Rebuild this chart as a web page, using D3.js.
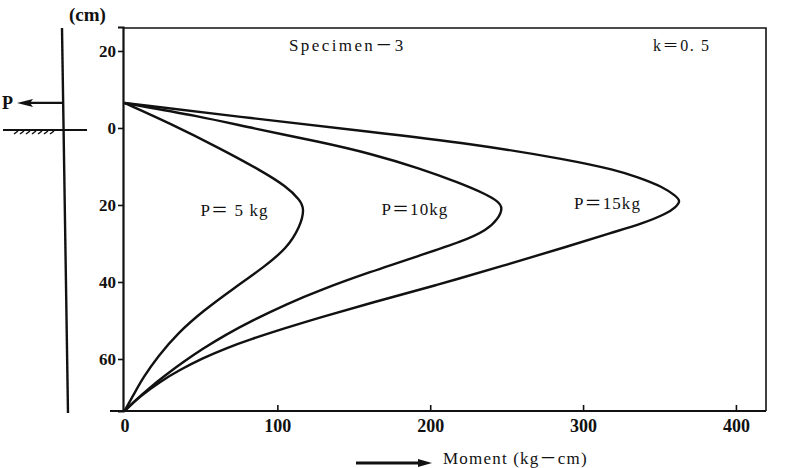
<!DOCTYPE html>
<html>
<head>
<meta charset="utf-8">
<script src="https://cdn.jsdelivr.net/npm/d3@7/dist/d3.min.js"></script>
<style>
  html, body { margin: 0; padding: 0; background: #fff; }
  svg { display: block; }
  text { font-family: "Liberation Serif", "Noto Sans CJK JP", serif; fill: #111; }
</style>
</head>
<body>
<svg id="chart" width="786" height="468"></svg>
<script>
// ---- data (moment kg-cm, depth cm; negative depth = above ground) ----
const momentTicks = [0, 100, 200, 300, 400];
const depthTicks = [-20, 0, 20, 40, 60];
const depthTickLabels = ["20", "0", "20", "40", "60"];
const seriesNames = ["P＝ 5 kg", "P＝10kg", "P＝15kg"];
const curveP5 = [
  [0, -6.5], [29.8, -1.2], [62.5, 5.3], [88.6, 10.9], [106.1, 15.2], [114.8, 18.7], [117.8, 21.0],
  [114.8, 25.7], [106.3, 31.2], [91.3, 36.1], [71.6, 41.6], [51.4, 47.5], [35.0, 53.2],
  [21.9, 59.3], [12.0, 64.9], [5.8, 69.4], [0, 73.5]
];
const curveP10 = [
  [0, -6.5], [49.4, -3.0], [84.1, 0.1], [127.9, 3.6], [160.6, 6.6], [193.3, 10.5], [219.5, 14.3],
  [235.9, 17.1], [244.4, 19.0], [247.6, 20.8], [244.4, 23.6], [237.2, 26.5], [221.5, 29.4],
  [193.3, 33.1], [160.6, 37.4], [127.9, 42.1], [106.3, 45.7], [84.1, 49.9], [65.7, 53.8],
  [51.4, 57.3], [38.3, 60.8], [26.5, 64.3], [15.4, 67.8], [7.5, 70.6], [0, 73.5]
];
const curveP15 = [
  [0, -6.5], [84.1, -2.5], [160.6, 1.0], [226.0, 4.0], [291.5, 8.3], [320.9, 10.9], [335.3, 12.7],
  [352.3, 15.3], [360.8, 17.7], [363.8, 19.0], [360.8, 20.5], [354.9, 22.2], [339.2, 24.8],
  [317.6, 27.3], [291.5, 30.6], [247.6, 35.8], [204.4, 40.8], [160.6, 45.5], [127.9, 49.2],
  [105.0, 52.0], [83.4, 54.75], [65.7, 57.3], [51.4, 59.75], [36.3, 62.8], [23.2, 65.9],
  [10.1, 69.7], [0, 73.5]
];
const seriesLabelAt = [[72, 21.2], [190, 21], [316, 19.5]];

// ---- layout ----
const svg = d3.select("#chart");
const pL = 123, pR = 766, pT = 27, pB = 411;
const x = d3.scaleLinear().domain([0, 420]).range([124.5, 766.5]);
const y = d3.scaleLinear().domain([-26.23, 73.51]).range([pT, pB]);

const serif = '"Liberation Serif", "Noto Sans CJK JP", serif';

// frame: top and right edges
svg.append("path")
  .attr("d", `M${pL},${pT + 1}H${pR}V${pB}`)
  .attr("fill", "none").attr("stroke", "#111").attr("stroke-width", 1.6);

// y axis
const yAxis = d3.axisLeft(y).tickValues(depthTicks)
  .tickFormat((d, i) => depthTickLabels[i]).tickSize(5).tickPadding(2);
const gy = svg.append("g").attr("transform", `translate(${pL},0)`).call(yAxis);
gy.select(".domain").attr("stroke", "#111").attr("stroke-width", 2.2);
gy.selectAll(".tick line").attr("stroke", "#111").attr("stroke-width", 1.6);
gy.selectAll(".tick text").attr("font-family", serif).attr("font-size", 17)
  .attr("font-weight", "bold").attr("fill", "#222");

// x axis (ticks inward)
const xAxis = d3.axisBottom(x).tickValues(momentTicks).tickSize(0).tickPadding(8)
  .tickFormat(d3.format("d"));
const gx = svg.append("g").attr("transform", `translate(0,${pB})`).call(xAxis);
gx.select(".domain").remove();
gx.selectAll(".tick text").attr("font-family", serif).attr("font-size", 18)
  .attr("font-weight", "bold").attr("fill", "#222");
gx.selectAll(".tick").filter(d => d > 0).append("line")
  .attr("y1", 0).attr("y2", -6).attr("stroke", "#111").attr("stroke-width", 1.6);
svg.append("line").attr("x1", 110).attr("x2", pR).attr("y1", pB).attr("y2", pB)
  .attr("stroke", "#111").attr("stroke-width", 2.2);

// curves
const line = d3.line().x(d => x(d[0])).y(d => y(d[1])).curve(d3.curveBasis);
[curveP5, curveP10, curveP15].forEach(c => {
  svg.append("path").datum(c).attr("d", line)
    .attr("fill", "none").attr("stroke", "#111").attr("stroke-width", 2.4)
    .attr("stroke-linejoin", "round");
});

// series labels
seriesNames.forEach((s, i) => {
  svg.append("text").attr("x", x(seriesLabelAt[i][0])).attr("y", y(seriesLabelAt[i][1]) + 6)
    .attr("text-anchor", "middle").attr("font-size", 17).attr("letter-spacing", 1.1).text(s);
});

// header texts
svg.append("text").attr("x", 289).attr("y", 51).attr("font-size", 17)
  .attr("letter-spacing", 2.4).text("Specimen－3");
svg.append("text").attr("x", 653).attr("y", 51).attr("font-size", 16)
  .attr("letter-spacing", 1.6).text("k＝0. 5");
svg.append("text").attr("x", 69).attr("y", 21).attr("font-size", 19)
  .attr("font-weight", "bold").text("(cm)");

// x axis title with arrow
svg.append("line").attr("x1", 356).attr("x2", 420).attr("y1", 463).attr("y2", 463)
  .attr("stroke", "#111").attr("stroke-width", 3);
svg.append("path").attr("d", "M432,463 L418,459 L418,467 Z").attr("fill", "#111");
svg.append("text").attr("x", 443).attr("y", 464).attr("font-size", 17)
  .attr("letter-spacing", 1.2).text("Moment (kg－cm)");

// left schematic: pile, load arrow, ground
const yLoad = y(-6.5), yGround = y(0);
svg.append("line").attr("x1", 62).attr("y1", 28).attr("x2", 68).attr("y2", 413)
  .attr("stroke", "#111").attr("stroke-width", 2.4);
svg.append("line").attr("x1", 30).attr("x2", 63).attr("y1", yLoad).attr("y2", yLoad)
  .attr("stroke", "#111").attr("stroke-width", 2.2);
svg.append("path").attr("d", `M17,${yLoad} L33,${yLoad - 4} L30,${yLoad} L33,${yLoad + 4} Z`)
  .attr("fill", "#111");
svg.append("text").attr("x", 2).attr("y", yLoad + 6).attr("font-size", 18)
  .attr("font-weight", "bold").text("P");
svg.append("line").attr("x1", 3).attr("x2", 87).attr("y1", yGround + 2).attr("y2", yGround + 2)
  .attr("stroke", "#111").attr("stroke-width", 2);
const hatch = d3.range(14, 56, 6);
svg.selectAll(".hatch").data(hatch).enter().append("line")
  .attr("x1", d => d).attr("x2", d => d + 4)
  .attr("y1", yGround + 6).attr("y2", yGround + 3)
  .attr("stroke", "#111").attr("stroke-width", 1.5);
</script>
</body>
</html>
